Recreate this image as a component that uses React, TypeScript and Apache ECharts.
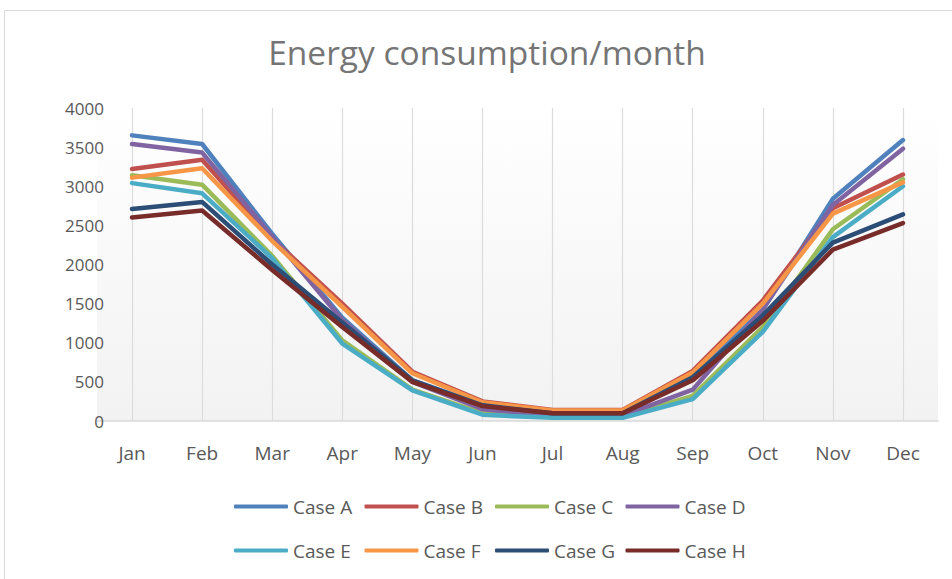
import React, { useEffect, useRef } from "react";
import * as echarts from "echarts";

const months = ["Jan", "Feb", "Mar", "Apr", "May", "Jun", "Jul", "Aug", "Sep", "Oct", "Nov", "Dec"];
const seriesNames = ["Case A", "Case B", "Case C", "Case D", "Case E", "Case F", "Case G", "Case H"];
const caseA = [3650, 3540, 2390, 1320, 520, 200, 90, 90, 560, 1420, 2840, 3590];
const caseB = [3220, 3340, 2330, 1500, 630, 250, 140, 140, 640, 1540, 2720, 3150];
const caseC = [3140, 3020, 2110, 1030, 400, 100, 50, 50, 320, 1200, 2450, 3090];
const caseD = [3540, 3430, 2360, 1290, 500, 150, 70, 70, 400, 1430, 2760, 3480];
const caseE = [3040, 2910, 2080, 990, 390, 80, 40, 40, 280, 1140, 2350, 3000];
const caseF = [3110, 3230, 2300, 1460, 610, 240, 135, 135, 620, 1500, 2650, 3050];
const caseG = [2710, 2800, 2000, 1260, 520, 200, 100, 100, 560, 1350, 2280, 2640];
const caseH = [2600, 2690, 1930, 1200, 500, 190, 100, 100, 520, 1280, 2190, 2530];
const allValues = [caseA, caseB, caseC, caseD, caseE, caseF, caseG, caseH];
const colors = ["#4F81BD", "#C0504D", "#9BBB59", "#8064A2", "#4BACC6", "#F79646", "#2C4D75", "#772C2A"];
const yMin = 0;
const yMax = 4000;
const yInterval = 500;

const FONT = "'Open Sans', Lato, sans-serif";

export default function App() {
  const ref = useRef<HTMLDivElement>(null);
  useEffect(() => {
    if (!ref.current) return;
    const chart = echarts.init(ref.current, undefined, { renderer: "svg" });
    const legends = seriesNames.map((name, i) => ({
      data: [name],
      left: 229 + (i % 4) * 130.5,
      top: i < 4 ? 492 : 536,
      itemWidth: 54,
      itemHeight: 4,
      icon: "roundRect",
      textStyle: { fontFamily: FONT, fontSize: 19, color: "#595959" },
    }));
    chart.setOption({
      animation: false,
      color: colors,
      textStyle: { fontFamily: FONT },
      title: {
        text: "Energy consumption/month",
        left: 482,
        textAlign: "center",
        top: 30,
        textStyle: { fontFamily: FONT, fontSize: 33.5, fontWeight: "normal", color: "#757575" },
      },
      graphic: [
        {
          type: "rect",
          shape: { x: 4.5, y: 10.5, width: 1000, height: 700 },
          style: { fill: "none", stroke: "#d9d9d9", lineWidth: 1 },
          silent: true,
          z: -10,
        },
      ],
      legend: legends,
      grid: {
        left: 97,
        right: 14,
        top: 108,
        bottom: 158,
        show: true,
        borderWidth: 0,
        backgroundColor: new echarts.graphic.LinearGradient(0, 0, 0, 1, [
          { offset: 0, color: "#ffffff" },
          { offset: 1, color: "#f2f2f2" },
        ]),
      },
      xAxis: {
        type: "category",
        data: months,
        boundaryGap: true,
        axisLine: { show: true, lineStyle: { color: "#d9d9d9", width: 1.5 } },
        axisTick: { show: false },
        axisLabel: { fontFamily: FONT, fontSize: 19, color: "#595959", margin: 22 },
        splitLine: { show: true, alignWithLabel: true, lineStyle: { color: "#dcdcdc", width: 1.2 } },
      },
      yAxis: {
        type: "value",
        min: yMin,
        max: yMax,
        interval: yInterval,
        axisLine: { show: false },
        axisTick: { show: false },
        splitLine: { show: false },
        axisLabel: {
          fontFamily: FONT,
          fontSize: 17,
          color: "#595959",
          margin: -7,
          formatter: (v: number) => String(v),
        },
      },
      series: seriesNames.map((name, i) => ({
        name,
        type: "line",
        data: allValues[i],
        symbol: "none",
        lineStyle: { width: 4.5, color: colors[i], cap: "round", join: "round" },
        itemStyle: { color: colors[i] },
      })),
    });
    return () => chart.dispose();
  }, []);
  return (
    <div
      ref={ref}
      style={{ position: "fixed", left: 0, top: 0, width: 952, height: 579, background: "#ffffff" }}
    />
  );
}
